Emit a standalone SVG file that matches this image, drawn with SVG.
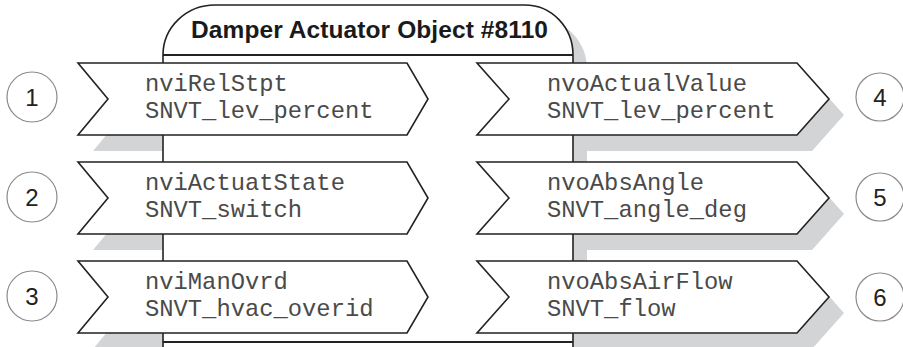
<svg xmlns="http://www.w3.org/2000/svg" width="903" height="347" viewBox="0 0 903 347">
<defs>
<style>
.sh{fill:#d3d4d6;stroke:none}
.ln{fill:#fff;stroke:#222;stroke-width:1.6;stroke-linejoin:miter}
.tx{font-family:"Liberation Mono","Courier New",monospace;font-size:23.8px;fill:#4a4a4a}
.ti{font-family:"Liberation Sans",Arial,sans-serif;font-size:24.5px;font-weight:bold;fill:#1a1a1a}
.cc{fill:#fff;stroke:#8a8a8a;stroke-width:1.2}
.cn{font-family:"Liberation Sans",Arial,sans-serif;font-size:24px;fill:#222;text-anchor:middle}
.rule{stroke:#222;stroke-width:1.8;fill:none}
</style>
<polygon id="la" points="78,0 407,0 428,36 407,72 78,72 108,36"/>
<polygon id="ra" points="477,0 797,0 829,36 797,72 477,72 509,36"/>
</defs>
<g id="shadows">
<path class="sh" d="M177,361 L177,69 A52,50 0 0 1 229,19 L539,19 A48,50 0 0 1 587,69 L587,361 Z"/>
<use href="#la" class="sh" transform="translate(15,79)"/>
<use href="#la" class="sh" transform="translate(15,178)"/>
<use href="#la" class="sh" transform="translate(15,277)"/>
<use href="#ra" class="sh" transform="translate(15,79)"/>
<use href="#ra" class="sh" transform="translate(15,178)"/>
<use href="#ra" class="sh" transform="translate(15,277)"/>
</g>
<g id="object">
<path class="ln" d="M163,349 L163,55 A52,50 0 0 1 215,5 L525,5 A48,50 0 0 1 573,55 L573,349"/>
<line class="rule" x1="163" y1="55" x2="573" y2="55"/>
<line class="rule" x1="163" y1="342" x2="573" y2="342"/>
<text class="ti" x="191" y="38" textLength="357" lengthAdjust="spacing">Damper Actuator Object #8110</text>
</g>
<g id="connectors"></g>
<g id="nv1">
<use href="#la" class="ln" transform="translate(0,63)"/>
<text class="tx" x="145" y="91">nviRelStpt</text>
<text class="tx" x="145" y="118">SNVT_lev_percent</text>
</g>
<g id="nv2">
<use href="#la" class="ln" transform="translate(0,162)"/>
<text class="tx" x="145" y="190">nviActuatState</text>
<text class="tx" x="145" y="217">SNVT_switch</text>
</g>
<g id="nv3">
<use href="#la" class="ln" transform="translate(0,261)"/>
<text class="tx" x="145" y="289">nviManOvrd</text>
<text class="tx" x="145" y="316">SNVT_hvac_overid</text>
</g>
<g id="nv4">
<use href="#ra" class="ln" transform="translate(0,63)"/>
<text class="tx" x="547" y="91">nvoActualValue</text>
<text class="tx" x="547" y="118">SNVT_lev_percent</text>
</g>
<g id="nv5">
<use href="#ra" class="ln" transform="translate(0,162)"/>
<text class="tx" x="547" y="190">nvoAbsAngle</text>
<text class="tx" x="547" y="217">SNVT_angle_deg</text>
</g>
<g id="nv6">
<use href="#ra" class="ln" transform="translate(0,261)"/>
<text class="tx" x="547" y="289">nvoAbsAirFlow</text>
<text class="tx" x="547" y="316">SNVT_flow</text>
</g>
<g id="c1"><circle class="cc" cx="32" cy="97" r="25"/><text class="cn" x="32" y="106">1</text></g>
<g id="c2"><circle class="cc" cx="32" cy="197" r="25"/><text class="cn" x="32" y="206">2</text></g>
<g id="c3"><circle class="cc" cx="32" cy="296" r="25"/><text class="cn" x="32" y="305">3</text></g>
<g id="c4"><circle class="cc" cx="880" cy="97" r="24"/><text class="cn" x="880" y="106">4</text></g>
<g id="c5"><circle class="cc" cx="880" cy="197" r="24"/><text class="cn" x="880" y="206">5</text></g>
<g id="c6"><circle class="cc" cx="880" cy="297" r="24"/><text class="cn" x="880" y="306">6</text></g>
</svg>
